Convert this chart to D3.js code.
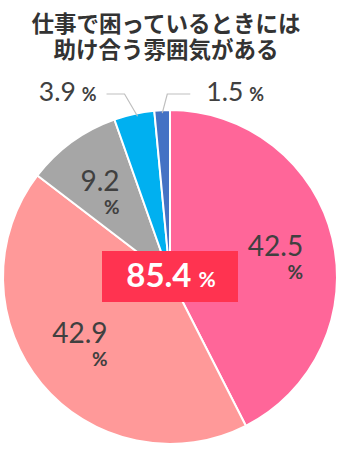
<!DOCTYPE html>
<html>
<head>
<meta charset="utf-8">
<script src="https://cdn.jsdelivr.net/npm/d3@7/dist/d3.min.js"></script>
<style>
  html, body { margin: 0; padding: 0; background: #fff; }
  svg { display: block; }
</style>
</head>
<body>
<script>
// Survey answers, clockwise from 12 o'clock
const categories = ["とてもあてはまる", "ややあてはまる", "あまりあてはまらない", "まったくあてはまらない", "わからない"];
const values = [42.5, 42.9, 9.2, 3.9, 1.5];
const colors = ["#FF6699", "#FF9999", "#A6A6A6", "#00B0F0", "#4472C4"];
const titleLines = ["仕事で困っているときには", "助け合う雰囲気がある"];
const highlightValue = 85.4; // top two answers combined

const W = 340, H = 450;
const cx = 170, cy = 277, R = 167;
const textColor = "#404040";
const numFont = "Lato, 'Noto Sans', sans-serif";

const svg = d3.select("body").append("svg")
  .attr("width", W).attr("height", H);

// Title
svg.append("g").selectAll("text")
  .data(titleLines)
  .join("text")
  .attr("x", 166)
  .attr("y", (d, i) => 32 + i * 25.5)
  .attr("text-anchor", "middle")
  .attr("font-family", "'Noto Sans CJK JP', sans-serif")
  .attr("font-weight", 700)
  .attr("font-size", 22.5)
  .attr("fill", "#333")
  .text(d => d);

const pie = d3.pie().sort(null).value(d => d)
  .startAngle(0).endAngle(2 * Math.PI);
const arcs = pie(values);
const arc = d3.arc().innerRadius(0).outerRadius(R);

const g = svg.append("g").attr("transform", `translate(${cx},${cy})`);

g.selectAll("path")
  .data(arcs)
  .join("path")
  .attr("d", arc)
  .attr("fill", (d, i) => colors[i])
  .attr("stroke", "#fff")
  .attr("stroke-width", 2)
  .attr("stroke-linejoin", "round");

const polar = (angle, r) => [r * Math.sin(angle), -r * Math.cos(angle)];
const mid = d => (d.startAngle + d.endAngle) / 2;
const deg = Math.PI / 180;

// Inside labels: number with a smaller "%" right-aligned beneath it
const inside = [
  { i: 0, r: 110, shift: -3 * deg },
  { i: 1, r: 106, shift: 8 * deg },
  { i: 2, r: 119, shift: 0 }
];
inside.forEach(o => {
  const d = arcs[o.i];
  const [x, y] = polar(mid(d) + o.shift, o.r);
  const num = g.append("text")
    .attr("x", x).attr("y", y + 10)
    .attr("text-anchor", "middle")
    .attr("font-family", numFont)
    .attr("font-size", 28)
    .attr("fill", textColor)
    .text(values[o.i].toFixed(1));
  const w = num.node().getComputedTextLength();
  g.append("text")
    .attr("x", x + w / 2).attr("y", y + 33)
    .attr("text-anchor", "end")
    .attr("font-family", numFont)
    .attr("font-weight", 700)
    .attr("font-size", 19)
    .attr("fill", textColor)
    .text("%");
});

// Outside labels with elbow leader lines
const outside = [
  { i: 3, dir: -1, run: 18, shift: 1 * deg },
  { i: 4, dir: 1, run: 23, shift: 0 }
];
outside.forEach(o => {
  const d = arcs[o.i];
  const a = mid(d) + o.shift;
  const p0 = polar(a, R - 3);
  const elbowY = -R - 16;
  const p1 = [p0[0] + (o.dir > 0 ? 5 : -13), elbowY];
  const p2 = [p1[0] + o.dir * o.run, elbowY];
  g.append("polyline")
    .attr("points", [p0, p1, p2].map(p => p.join(",")).join(" "))
    .attr("fill", "none")
    .attr("stroke", "#BFBFBF")
    .attr("stroke-width", 1.2);

  const t = g.append("text")
    .attr("y", elbowY + 7)
    .attr("font-family", numFont)
    .attr("fill", textColor);
  t.append("tspan")
    .attr("font-size", 26.5)
    .text(values[o.i].toFixed(1));
  t.append("tspan")
    .attr("dx", 6)
    .attr("font-size", 18)
    .attr("font-weight", 700)
    .text("%");
  if (o.dir > 0) {
    t.attr("x", p2[0] + 16).attr("text-anchor", "start");
  } else {
    t.attr("x", p2[0] - 10).attr("text-anchor", "end");
  }
});

// Combined highlight badge
const badge = svg.append("g");
badge.append("rect")
  .attr("x", 102).attr("y", 251)
  .attr("width", 136).attr("height", 51)
  .attr("fill", "#FF3350");
const bt = badge.append("text")
  .attr("x", 171).attr("y", 287)
  .attr("text-anchor", "middle")
  .attr("font-family", numFont)
  .attr("font-weight", 700)
  .attr("fill", "#fff");
bt.append("tspan").attr("font-size", 33).text(highlightValue.toFixed(1));
bt.append("tspan").attr("dx", 7).attr("font-size", 21).text("%");
</script>
</body>
</html>
